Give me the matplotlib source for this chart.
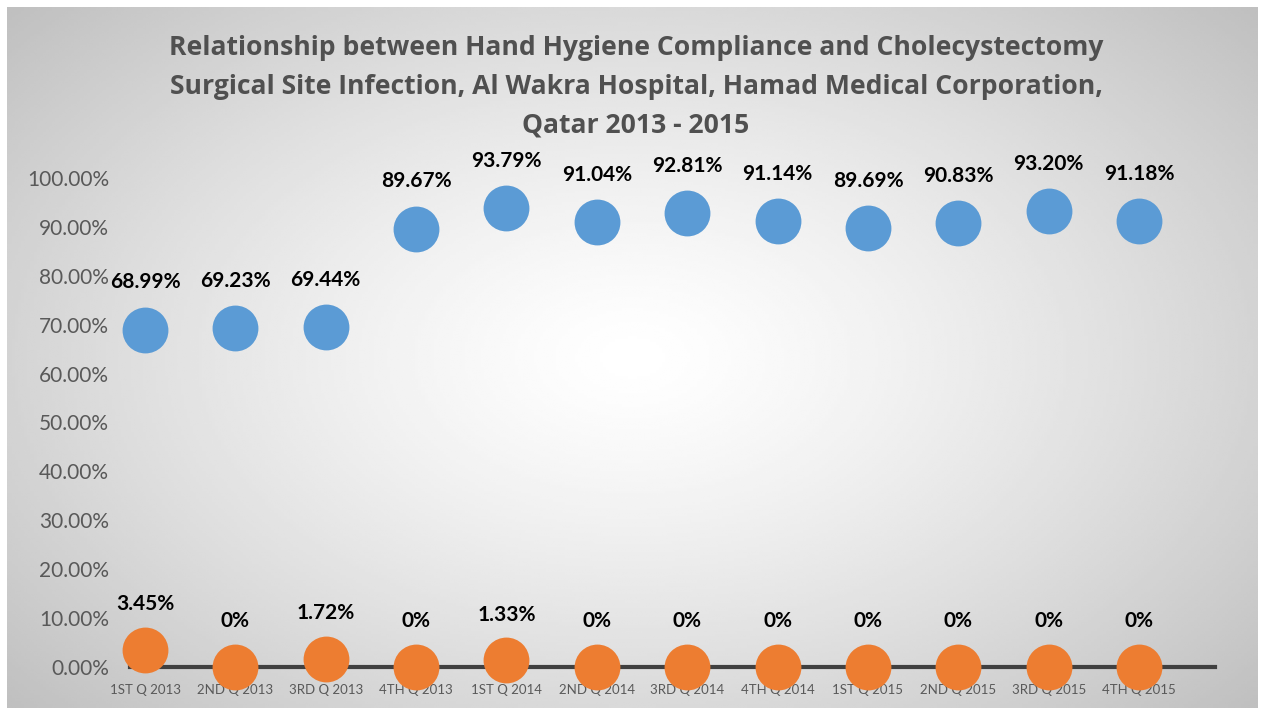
import matplotlib
matplotlib.use("Agg")
import matplotlib.pyplot as plt
import numpy as np

# ---- data -----------------------------------------------------------------
quarters = ["1ST Q 2013", "2ND Q 2013", "3RD Q 2013", "4TH Q 2013",
            "1ST Q 2014", "2ND Q 2014", "3RD Q 2014", "4TH Q 2014",
            "1ST Q 2015", "2ND Q 2015", "3RD Q 2015", "4TH Q 2015"]
hand_hygiene = [68.99, 69.23, 69.44, 89.67, 93.79, 91.04,
                92.81, 91.14, 89.69, 90.83, 93.20, 91.18]
ssi_rate = [3.45, 0, 1.72, 0, 1.33, 0, 0, 0, 0, 0, 0, 0]
y_ticks = [0, 10, 20, 30, 40, 50, 60, 70, 80, 90, 100]

title = ("Relationship between Hand Hygiene Compliance and Cholecystectomy\n"
         "Surgical Site Infection, Al Wakra Hospital, Hamad Medical Corporation,\n"
         "Qatar 2013 - 2015")

BLUE = "#5B9BD5"
ORANGE = "#ED7D31"
GREY_TXT = "#595959"

plt.rcParams["font.family"] = ["Lato", "DejaVu Sans"]

W, H = 1266, 713
fig = plt.figure(figsize=(W / 100, H / 100), dpi=100)
fig.patch.set_facecolor("white")

# --- radial gradient background of the chart area -----------------------
bx0, by0, bx1, by1 = 7, 7, 1258, 708
bg = fig.add_axes([bx0 / W, 1 - by1 / H, (bx1 - bx0) / W, (by1 - by0) / H])
gx, gy = np.meshgrid(np.linspace(-1, 1, 400), np.linspace(-1, 1, 250))
r = np.sqrt(gx ** 2 + (gy * 0.9) ** 2) / np.sqrt(1 + 0.81)
shade = 1.0 - 0.25 * r ** 1.3
bg.imshow(shade, cmap="gray", vmin=0, vmax=1, aspect="auto",
          extent=[0, 1, 0, 1], interpolation="bilinear")
bg.set_axis_off()

# --- main axes -------------------------------------------------------------
ax_l, ax_r, ax_t, ax_b = 130, 1215, 178, 667
ax = fig.add_axes([ax_l / W, 1 - ax_b / H, (ax_r - ax_l) / W, (ax_b - ax_t) / H])
ax.set_facecolor("none")

x = np.arange(len(quarters))
ax.set_xlim(-0.166, 11.84)
ax.set_ylim(0, 100)

ax.plot(x, hand_hygiene, "o", ms=33, color=BLUE, mec="none", clip_on=False, zorder=3)
ax.plot(x, ssi_rate, "o", ms=33, color=ORANGE, mec="none", clip_on=False, zorder=3)

def fmt(v):
    return "0%" if v == 0 else f"{v:.2f}%"

for xi, v in zip(x, hand_hygiene):
    ax.annotate(fmt(v), (xi, v), xytext=(0, 34), textcoords="offset points",
                ha="center", va="center", fontsize=15, fontweight="bold",
                color="black", annotation_clip=False)
for xi, v in zip(x, ssi_rate):
    ax.annotate(fmt(v), (xi, v), xytext=(0, 33), textcoords="offset points",
                ha="center", va="center", fontsize=15, fontweight="bold",
                color="black", annotation_clip=False)

for s in ("top", "right", "left"):
    ax.spines[s].set_visible(False)
ax.spines["bottom"].set_color("#404040")
ax.spines["bottom"].set_linewidth(3)
ax.spines["bottom"].set_zorder(1)

ax.set_xticks(x)
ax.set_xticklabels(quarters, fontsize=9.5, color=GREY_TXT)
ax.set_yticks(y_ticks)
ax.set_yticklabels([f"{t:.2f}%" for t in y_ticks], fontsize=15, color=GREY_TXT)
ax.tick_params(axis="x", length=0, pad=12)
ax.tick_params(axis="y", length=0, pad=15)

fig.text(636 / W, 1 - 87 / H, title, ha="center", va="center",
         fontsize=19.1, fontweight="bold", color="#505050", linespacing=1.63,
         family=["Open Sans", "DejaVu Sans"])

fig.savefig("out.png", dpi=100)
